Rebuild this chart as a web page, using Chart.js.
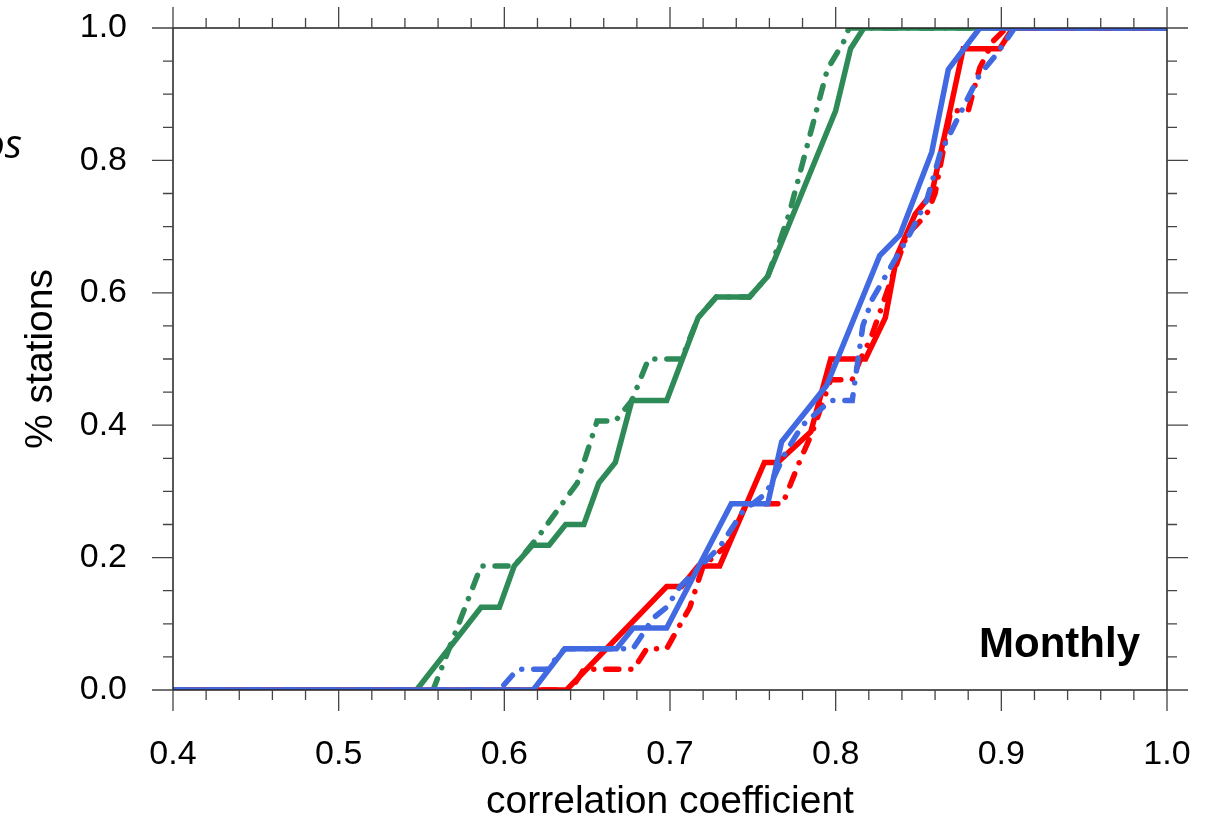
<!DOCTYPE html>
<html><head><meta charset="utf-8">
<script src="https://cdn.jsdelivr.net/npm/chart.js@4.4.1/dist/chart.umd.min.js"></script>
<style>html,body{margin:0;padding:0;background:#fff;overflow:hidden}</style>
</head><body>
<canvas id="c" width="1207" height="828"></canvas>
<script>
// ---- data ----
const xTitle = 'correlation coefficient';
const yTitle = '% stations';
const panelLabel = 'Monthly';

const greenSolidX = [0.4, 0.547, 0.586, 0.597, 0.606, 0.617, 0.627, 0.637, 0.648, 0.657, 0.667, 0.677, 0.698, 0.717, 0.728, 0.748, 0.759, 0.800, 0.809, 0.817, 1.0];
const greenSolidY = [0, 0, 0.125, 0.125, 0.1875, 0.21875, 0.21875, 0.25, 0.25, 0.3125, 0.34375, 0.4375, 0.4375, 0.5625, 0.59375, 0.59375, 0.625, 0.875, 0.96875, 1, 1];

const greenDashX = [0.4, 0.557, 0.586, 0.606, 0.62, 0.644, 0.656, 0.667, 0.677, 0.687, 0.707, 0.717, 0.728, 0.748, 0.759, 0.772, 0.795, 0.805, 0.808, 1.0];
const greenDashY = [0, 0, 0.1875, 0.1875, 0.23, 0.3125, 0.40625, 0.40625, 0.4375, 0.5, 0.5, 0.5625, 0.59375, 0.59375, 0.625, 0.72, 0.9375, 0.98, 1, 1];

const redSolidX = [0.4, 0.6375, 0.698, 0.707, 0.717, 0.73, 0.757, 0.765, 0.785, 0.797, 0.818, 0.83, 0.837, 0.848, 0.858, 0.869, 0.877, 0.899, 0.907, 1.0];
const redSolidY = [0, 0, 0.15625, 0.15625, 0.1875, 0.1875, 0.34375, 0.34375, 0.39, 0.5, 0.5, 0.5625, 0.65625, 0.71875, 0.75, 0.875, 0.96875, 0.96875, 1, 1];

const redDashX = [0.4, 0.64, 0.648, 0.678, 0.686, 0.698, 0.712, 0.72, 0.735, 0.746, 0.768, 0.778, 0.786, 0.797, 0.81, 0.815, 0.821, 0.843, 0.855, 0.86, 0.8695, 0.88, 0.887, 0.895, 0.903, 1.0];
const redDashY = [0, 0, 0.03125, 0.03125, 0.0625, 0.0625, 0.125, 0.1875, 0.22, 0.28125, 0.28125, 0.34375, 0.39, 0.46875, 0.46875, 0.5, 0.53, 0.6875, 0.71875, 0.75, 0.875, 0.875, 0.94, 0.98, 1, 1];

const blueSolidX = [0.4, 0.6174, 0.6366, 0.6677, 0.6778, 0.698, 0.737, 0.759, 0.7674, 0.7945, 0.8266, 0.8388, 0.858, 0.868, 0.887, 1.0];
const blueSolidY = [0, 0, 0.0625, 0.0625, 0.09375, 0.09375, 0.28125, 0.28125, 0.375, 0.46, 0.65625, 0.6875, 0.8125, 0.9375, 1, 1];

const blueDashX = [0.4, 0.597, 0.608, 0.6254, 0.6366, 0.6677, 0.6777, 0.69, 0.698, 0.706, 0.73, 0.744, 0.758, 0.77, 0.78, 0.797, 0.81, 0.8164, 0.822, 0.845, 0.855, 0.863, 0.875, 0.887, 0.897, 0.908, 1.0];
const blueDashY = [0, 0, 0.03125, 0.03125, 0.0625, 0.0625, 0.0625, 0.109, 0.125, 0.156, 0.216, 0.27, 0.297, 0.36, 0.40, 0.4375, 0.4375, 0.55, 0.59, 0.69, 0.74, 0.81, 0.87, 0.93, 0.96, 1, 1];

const GREEN = '#2e8b57', RED = '#ff0000', BLUE = '#4169e1';
const pts = (xs, ys) => xs.map((v, i) => ({x: v, y: ys[i]}));
const DASHDOT = [13, 12, 0.01, 12];
const LW = 5.5;

function ds(xs, ys, color, dashed) {
  return {
    data: pts(xs, ys), borderColor: color, borderWidth: LW, pointRadius: 0,
    tension: 0, fill: false, borderDash: dashed ? DASHDOT : [],
    borderCapStyle: dashed ? 'round' : 'butt', borderJoinStyle: 'miter'
  };
}

// first dataset is drawn on top
const datasets = [
  ds(blueDashX, blueDashY, BLUE, true),
  ds(blueSolidX, blueSolidY, BLUE, false),
  ds(redDashX, redDashY, RED, true),
  ds(redSolidX, redSolidY, RED, false),
  ds(greenDashX, greenDashY, GREEN, true),
  ds(greenSolidX, greenSolidY, GREEN, false)
];

const FONT = "'Liberation Sans', Arial, Helvetica, sans-serif";

function noPad(s) { s.paddingTop = 0; s.paddingBottom = 0; s.paddingLeft = 0; s.paddingRight = 0; }

const framePlugin = {
  id: 'frame',
  beforeDraw(chart) {
    const {ctx} = chart;
    ctx.save(); ctx.fillStyle = '#fff'; ctx.fillRect(0, 0, chart.width, chart.height); ctx.restore();
  },
  afterDatasetsDraw(chart) {
    const {ctx, chartArea: a, scales: {x, y}} = chart;
    ctx.save();
    ctx.strokeStyle = '#222'; ctx.lineWidth = 1.5;
    ctx.strokeRect(a.left, a.top, a.right - a.left, a.bottom - a.top);
    ctx.strokeStyle = '#444'; ctx.lineWidth = 1.3;
    ctx.beginPath();
    for (let k = 0; k <= 30; k++) {
      const v = 0.4 + k * 0.02;
      const px = x.getPixelForValue(v);
      const L = (k % 5 === 0) ? 21 : 10;
      ctx.moveTo(px, a.bottom); ctx.lineTo(px, a.bottom + L);
      ctx.moveTo(px, a.top); ctx.lineTo(px, a.top - L);
    }
    for (let k = 0; k <= 20; k++) {
      const v = k * 0.05;
      const py = y.getPixelForValue(v);
      const L = (k % 4 === 0) ? 21 : 10;
      ctx.moveTo(a.left, py); ctx.lineTo(a.left - L, py);
      ctx.moveTo(a.right, py); ctx.lineTo(a.right + L, py);
    }
    ctx.stroke();
    // panel label
    ctx.fillStyle = '#000';
    ctx.font = 'bold 42px ' + FONT;
    ctx.textAlign = 'right'; ctx.textBaseline = 'alphabetic';
    ctx.fillText(panelLabel, 1140, 657);
    // clipped text from neighbouring panel
    ctx.font = "italic 40px 'Open Sans', sans-serif";
    ctx.textAlign = 'right';
    ctx.fillText('os', 22, 158);
    ctx.restore();
  }
};

new Chart(document.getElementById('c'), {
  type: 'line',
  data: {datasets},
  plugins: [framePlugin],
  options: {
    responsive: false, animation: false, devicePixelRatio: 1,
    layout: {padding: {top: 28, right: 40, left: 0, bottom: 0}},
    plugins: {legend: {display: false}, tooltip: {enabled: false}},
    scales: {
      x: {
        type: 'linear', min: 0.4, max: 1.0, position: 'bottom',
        grid: {display: false, drawTicks: false}, border: {display: false},
        ticks: {stepSize: 0.1, color: '#000', padding: 44, font: {family: FONT, size: 34},
          callback: v => Number(v).toFixed(1)},
        title: {display: true, text: xTitle, color: '#000', font: {family: FONT, size: 39}, padding: {top: 0, bottom: 2}},
        afterFit: s => { s.height = 138; noPad(s); }
      },
      y: {
        type: 'linear', min: 0, max: 1, position: 'left',
        grid: {display: false, drawTicks: false}, border: {display: false},
        ticks: {stepSize: 0.2, color: '#000', padding: 46, font: {family: FONT, size: 34},
          callback: v => Number(v).toFixed(1)},
        title: {display: true, text: yTitle, color: '#000', font: {family: FONT, size: 39}, padding: {top: 18, bottom: 0}},
        afterFit: s => { s.width = 173; noPad(s); }
      }
    }
  }
});
</script>
</body></html>
